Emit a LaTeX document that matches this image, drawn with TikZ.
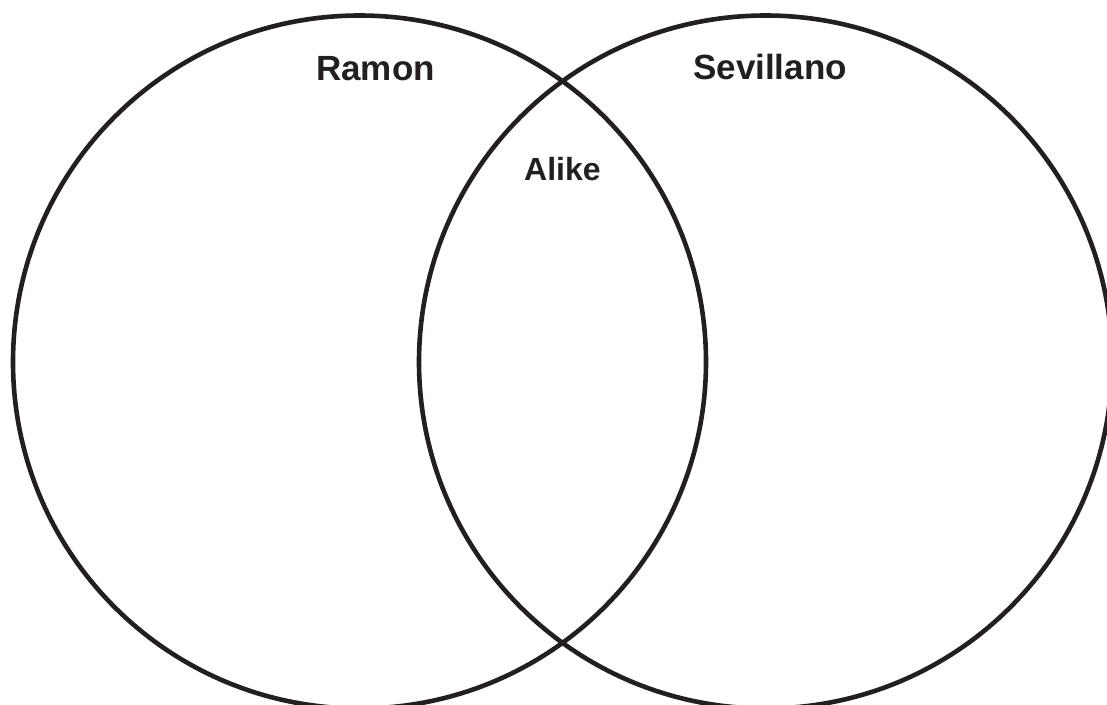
\documentclass[tikz,border=0pt]{standalone}
\usepackage{fontspec}
\setmainfont{Liberation Sans}
\definecolor{ink}{HTML}{231F20}
\begin{document}
\begin{tikzpicture}[x=1pt,y=-1pt,
  ring/.style={draw=ink,line width=4.6pt},
  setlabel/.style={anchor=base west,inner sep=0pt,text=ink,font=\fontsize{35}{40}\selectfont\bfseries},
  midlabel/.style={anchor=base west,inner sep=0pt,text=ink,font=\fontsize{32}{38}\selectfont\bfseries}]
\useasboundingbox (0,0) rectangle (1107,704);
\draw[ring] (359.5,362) circle[radius=346.5];
\draw[ring] (765.5,362) circle[radius=346.5];
\node[setlabel] (ramon) at (316,80) {Ramon};
\node[setlabel] (sevillano) at (693,79) {Sevillano};
\node[midlabel] (alike) at (524,180) {Alike};
\end{tikzpicture}
\end{document}
